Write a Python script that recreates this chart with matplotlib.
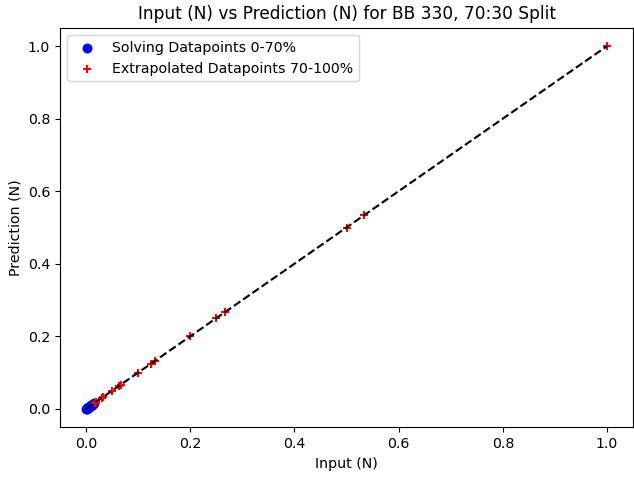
import matplotlib
matplotlib.use("Agg")
import matplotlib.pyplot as plt

# solving datapoints (0-70%), clustered near the origin
solve_x = [0.0, 0.001, 0.002, 0.003, 0.004, 0.005, 0.006, 0.007, 0.008, 0.009,
           0.010, 0.011, 0.0125, 0.014, 0.015]
solve_y = [0.0, 0.001, 0.002, 0.003, 0.004, 0.005, 0.006, 0.007, 0.008, 0.009,
           0.010, 0.011, 0.0125, 0.014, 0.015]

# extrapolated datapoints (70-100%)
extra_x = [0.0167, 0.02, 0.03, 0.0333, 0.05, 0.0625, 0.0667, 0.1, 0.125, 0.1333,
           0.2, 0.25, 0.2667, 0.5, 0.5333, 1.0]
extra_y = [0.0167, 0.02, 0.03, 0.0333, 0.05, 0.0625, 0.0667, 0.1, 0.125, 0.1333,
           0.2, 0.25, 0.2667, 0.5, 0.5333, 1.0]

line_x = [0.0, 1.0]
line_y = [0.0, 1.0]

W, H, dpi = 634, 477, 102
fig = plt.figure(figsize=(W / dpi, H / dpi), dpi=dpi)
ax = fig.add_axes([60 / W, 50 / H, 573 / W, 399 / H])
ax.scatter(solve_x, solve_y, color="blue", marker="o", label="Solving Datapoints 0-70%")
ax.scatter(extra_x, extra_y, color="red", marker="+", label="Extrapolated Datapoints 70-100%")
ax.plot(line_x, line_y, "k--")
ax.set_xlabel("Input (N)")
ax.set_ylabel("Prediction (N)")
ax.set_title("Input (N) vs Prediction (N) for BB 330, 70:30 Split")
ax.legend(loc="upper left")
fig.savefig("out.png")
